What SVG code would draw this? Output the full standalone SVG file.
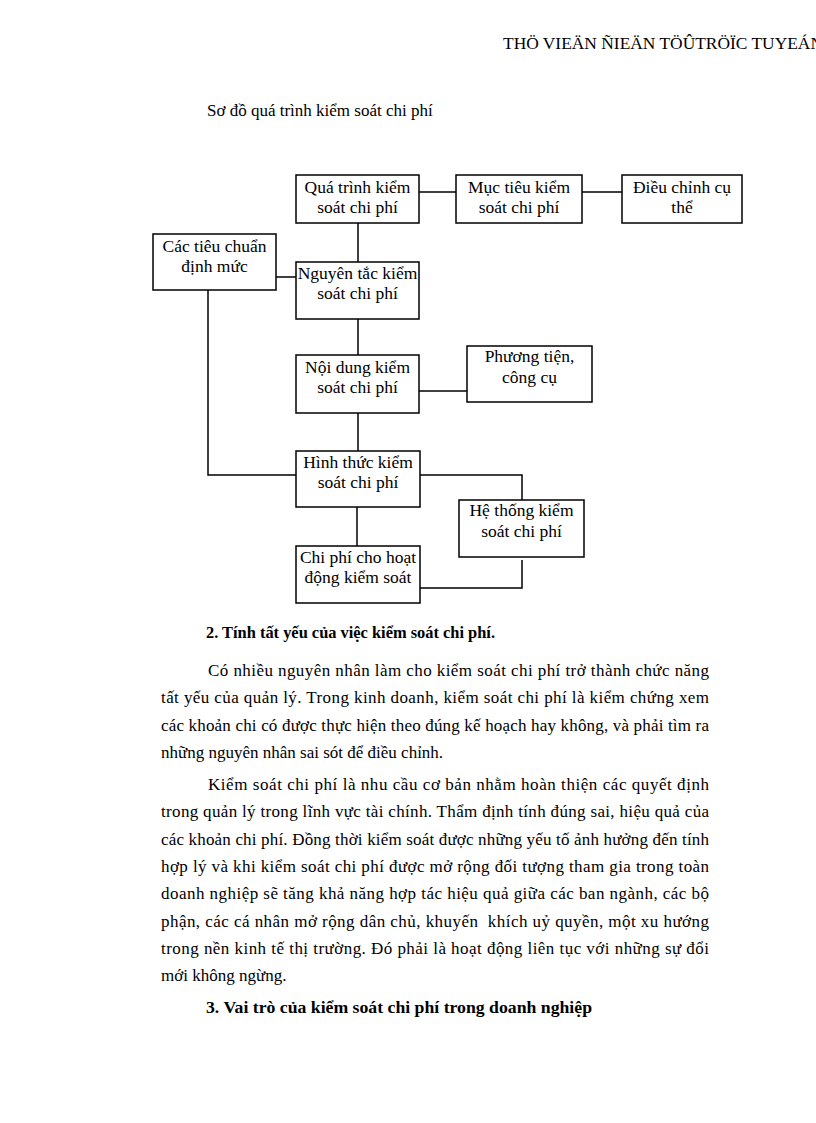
<svg xmlns="http://www.w3.org/2000/svg" width="816" height="1123" viewBox="0 0 816 1123">
<style>
text{font-family:"Liberation Serif","Times New Roman",serif;font-size:17px;fill:#000}
.box rect{fill:#fff;stroke:#000;stroke-width:1.5}
.box text{text-anchor:middle;font-size:17.5px}
.hd{font-weight:bold}
#connectors path{fill:none;stroke:#000;stroke-width:1.5}
</style>
<rect width="816" height="1123" fill="#fff"/>
<text x="503" y="49" font-size="21" textLength="320" lengthAdjust="spacingAndGlyphs">THÖ VIEÄN ÑIEÄN TÖÛTRÖÏC TUYEÁN</text>
<text x="207" y="116" font-size="17.5">Sơ đồ quá trình kiểm soát chi phí</text>

<g id="connectors">
<path d="M419,192 H456"/>
<path d="M582,192 H622"/>
<path d="M358,223 V262"/>
<path d="M276,277 H296"/>
<path d="M208,290 V475 H296"/>
<path d="M358,319 V355"/>
<path d="M419,391 H467"/>
<path d="M358,413 V451"/>
<path d="M420,475 H522 V500"/>
<path d="M357,507 V546"/>
<path d="M522,560 V588 H420"/>
</g>

<g id="n-quatrinh" class="box"><rect x="296" y="175" width="123" height="48"/><text x="357.5" y="193">Quá trình kiểm</text><text x="357.5" y="213">soát chi phí</text></g>
<g id="n-muctieu" class="box"><rect x="456" y="175" width="126" height="48"/><text x="519" y="193">Mục tiêu kiểm</text><text x="519" y="213">soát chi phí</text></g>
<g id="n-dieuchinh" class="box"><rect x="622" y="175" width="120" height="48"/><text x="682" y="193">Điều chỉnh cụ</text><text x="682" y="213">thể</text></g>
<g id="n-tieuchuan" class="box"><rect x="153" y="234" width="123" height="56"/><text x="214.5" y="252">Các tiêu chuẩn</text><text x="214.5" y="272">định mức</text></g>
<g id="n-nguyentac" class="box"><rect x="296" y="262" width="123" height="57"/><text x="357.5" y="279">Nguyên tắc kiểm</text><text x="357.5" y="299">soát chi phí</text></g>
<g id="n-noidung" class="box"><rect x="296" y="355" width="123" height="58"/><text x="357.5" y="373">Nội dung kiểm</text><text x="357.5" y="393">soát chi phí</text></g>
<g id="n-phuongtien" class="box"><rect x="467" y="346" width="125" height="56"/><text x="529.5" y="362">Phương tiện,</text><text x="529.5" y="383">công cụ</text></g>
<g id="n-hinhthuc" class="box"><rect x="296" y="451" width="124" height="56"/><text x="358" y="468">Hình thức kiểm</text><text x="358" y="488">soát chi phí</text></g>
<g id="n-hethong" class="box"><rect x="459" y="500" width="125" height="57"/><text x="521.5" y="516">Hệ thống kiểm</text><text x="521.5" y="537">soát chi phí</text></g>
<g id="n-chiphi" class="box"><rect x="296" y="546" width="124" height="57"/><text x="358" y="563">Chi phí cho hoạt</text><text x="358" y="583">động kiểm soát</text></g>

<text class="hd" x="206" y="638" textLength="289" lengthAdjust="spacingAndGlyphs">2. Tính tất yếu của việc kiểm soát chi phí.</text>
<text x="208" y="676" textLength="501" lengthAdjust="spacing">Có nhiều nguyên nhân làm cho kiểm soát chi phí trở thành chức năng</text>
<text x="161" y="703" textLength="548" lengthAdjust="spacing">tất yếu của quản lý. Trong kinh doanh, kiểm soát chi phí là kiểm chứng xem</text>
<text x="161" y="731" textLength="548" lengthAdjust="spacing">các khoản chi có được thực hiện theo đúng kế hoạch hay không, và phải tìm ra</text>
<text x="161" y="758">những nguyên nhân sai sót để điều chỉnh.</text>

<text x="208" y="790" textLength="501" lengthAdjust="spacing">Kiểm soát chi phí là nhu cầu cơ bản nhằm hoàn thiện các quyết định</text>
<text x="161" y="817" textLength="548" lengthAdjust="spacing">trong quản lý trong lĩnh vực tài chính. Thẩm định tính đúng sai, hiệu quả của</text>
<text x="161" y="845" textLength="548" lengthAdjust="spacing">các khoản chi phí. Đồng thời kiểm soát được những yếu tố ảnh hưởng đến tính</text>
<text x="161" y="872" textLength="548" lengthAdjust="spacing">hợp lý và khi kiểm soát chi phí được mở rộng đối tượng tham gia trong toàn</text>
<text x="161" y="899" textLength="548" lengthAdjust="spacing">doanh nghiệp sẽ tăng khả năng hợp tác hiệu quả giữa các ban ngành, các bộ</text>
<text x="161" y="927" textLength="548" lengthAdjust="spacing" xml:space="preserve">phận, các cá nhân mở rộng dân chủ, khuyến  khích uỷ quyền, một xu hướng</text>
<text x="161" y="954" textLength="548" lengthAdjust="spacing">trong nền kinh tế thị trường. Đó phải là hoạt động liên tục với những sự đổi</text>
<text x="161" y="981">mới không ngừng.</text>
<text class="hd" x="206" y="1013" textLength="386" lengthAdjust="spacingAndGlyphs">3. Vai trò của kiểm soát chi phí trong doanh nghiệp</text>
</svg>
